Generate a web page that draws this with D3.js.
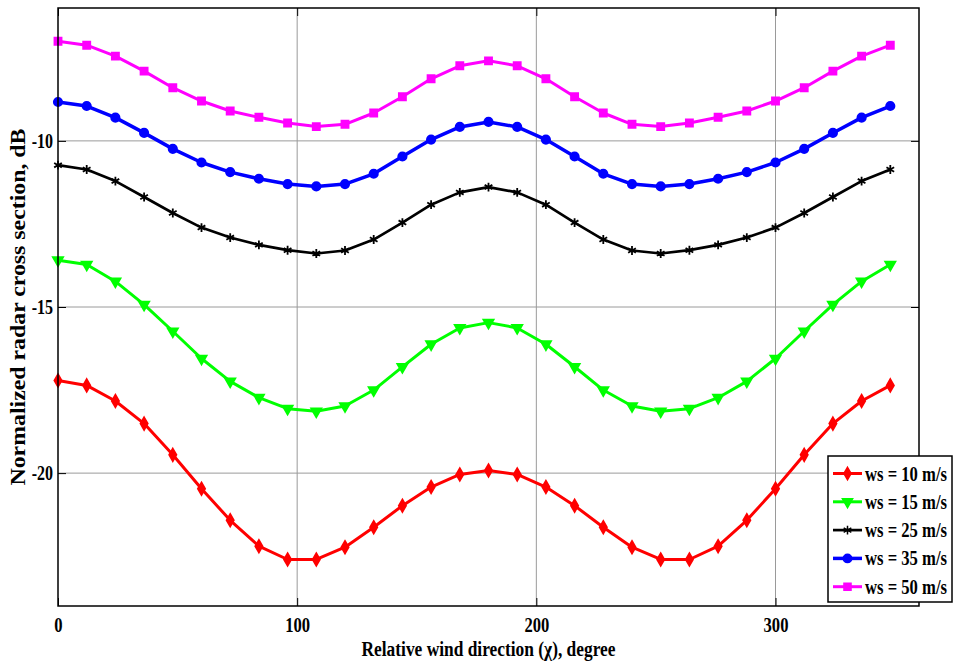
<!DOCTYPE html>
<html>
<head>
  <meta charset="utf-8">
  <script src="https://d3js.org/d3.v7.min.js"></script>
  <title>Normalized radar cross section vs wind direction</title>
  <style>
    body { margin: 0; background: #fff; }
    text { font-family: "Liberation Serif", "Times New Roman", serif; font-weight: bold; }
  </style>
</head>
<body>
<script>

  // relative wind direction, degree (one point every 12 degrees)
  var chi = [0, 12, 24, 36, 48, 60, 72, 84, 96, 108, 120, 132, 144, 156, 168,
             180, 192, 204, 216, 228, 240, 252, 264, 276, 288, 300, 312, 324, 336, 348];

  // NRCS in dB
  var ws10 = [-17.21, -17.36, -17.83, -18.51, -19.45, -20.47, -21.42, -22.20, -22.60, -22.60,
              -22.23, -21.63, -20.98, -20.42, -20.04, -19.92, -20.04, -20.42, -20.98, -21.63,
              -22.23, -22.60, -22.60, -22.20, -21.42, -20.47, -19.45, -18.51, -17.83, -17.36];
  var ws15 = [-13.59, -13.72, -14.23, -14.93, -15.73, -16.55, -17.24, -17.73, -18.06, -18.14,
              -17.98, -17.50, -16.80, -16.12, -15.63, -15.47, -15.63, -16.12, -16.80, -17.50,
              -17.98, -18.14, -18.06, -17.73, -17.24, -16.55, -15.73, -14.93, -14.23, -13.72];
  var ws25 = [-10.73, -10.86, -11.21, -11.69, -12.17, -12.61, -12.91, -13.13, -13.29, -13.39,
              -13.30, -12.97, -12.46, -11.92, -11.55, -11.39, -11.55, -11.92, -12.46, -12.97,
              -13.30, -13.39, -13.29, -13.13, -12.91, -12.61, -12.17, -11.69, -11.21, -10.86];
  var ws35 = [-8.83, -8.95, -9.30, -9.76, -10.24, -10.65, -10.94, -11.14, -11.30, -11.37,
              -11.30, -10.99, -10.47, -9.96, -9.58, -9.43, -9.58, -9.96, -10.47, -10.99,
              -11.30, -11.37, -11.30, -11.14, -10.94, -10.65, -10.24, -9.76, -9.30, -8.95];
  var ws50 = [-7.00, -7.12, -7.45, -7.90, -8.40, -8.80, -9.10, -9.29, -9.46, -9.57,
              -9.50, -9.16, -8.67, -8.13, -7.74, -7.59, -7.74, -8.13, -8.67, -9.16,
              -9.50, -9.57, -9.46, -9.29, -9.10, -8.80, -8.40, -7.90, -7.45, -7.12];

  var seriesNames = ["ws = 10 m/s", "ws = 15 m/s", "ws = 25 m/s", "ws = 35 m/s", "ws = 50 m/s"];
  var xTicks = [0, 100, 200, 300];
  var yTicks = [-20, -15, -10];

  var width = 954, height = 665;
  var margin = {left: 58, top: 8, right: 35, bottom: 59};
  var w = width - margin.left - margin.right,
      h = height - margin.top - margin.bottom;

  var series = [
    {name: seriesNames[0], values: ws10, color: "#ff0000", lw: 3,   symbol: d3.symbolDiamond,  size: 45, rot: 0},
    {name: seriesNames[1], values: ws15, color: "#00ff00", lw: 3,   symbol: d3.symbolTriangle, size: 45, rot: 180},
    {name: seriesNames[2], values: ws25, color: "#000000", lw: 2.7, symbol: d3.symbolAsterisk || d3.symbolCross, size: 55, rot: 0},
    {name: seriesNames[3], values: ws35, color: "#0000ff", lw: 3.5, symbol: d3.symbolCircle,   size: 55, rot: 0},
    {name: seriesNames[4], values: ws50, color: "#ff00ff", lw: 3,   symbol: d3.symbolSquare,   size: 50, rot: 0}
  ];

  var x = d3.scaleLinear().domain([0, 360]).range([0, w]);
  var y = d3.scaleLinear().domain([-24, -6]).range([h, 0]);

  var svg = d3.select("body").append("svg")
      .attr("width", width)
      .attr("height", height);

  var g = svg.append("g")
      .attr("transform", "translate(" + margin.left + "," + margin.top + ")");

  // squeeze text a bit, the original font is narrow
  function squeeze(sel, k) {
    sel.each(function() {
      var len = this.getComputedTextLength();
      d3.select(this).attr("textLength", len * k).attr("lengthAdjust", "spacingAndGlyphs");
    });
  }

  // grid
  g.append("g")
    .selectAll("line.vg")
    .data(xTicks.slice(1))
    .enter().append("line")
    .attr("x1", function(d) { return x(d); })
    .attr("x2", function(d) { return x(d); })
    .attr("y1", 0).attr("y2", h)
    .style("stroke", "#9a9a9a").style("stroke-width", 1);

  g.append("g")
    .selectAll("line.hg")
    .data(yTicks)
    .enter().append("line")
    .attr("x1", 0).attr("x2", w)
    .attr("y1", function(d) { return y(d); })
    .attr("y2", function(d) { return y(d); })
    .style("stroke", "#9a9a9a").style("stroke-width", 1);

  // lines + markers
  var line = d3.line()
      .x(function(d, i) { return x(chi[i]); })
      .y(function(d) { return y(d); });

  series.forEach(function(s) {
    g.append("path")
      .datum(s.values)
      .attr("d", line)
      .style("fill", "none")
      .style("stroke", s.color)
      .style("stroke-width", s.lw)
      .style("stroke-linejoin", "round");

    g.selectAll(null)
      .data(s.values)
      .enter().append("path")
      .attr("d", d3.symbol().type(s.symbol).size(s.size))
      .attr("transform", function(d, i) {
        return "translate(" + x(chi[i]) + "," + y(d) + ") rotate(" + s.rot + ")";
      })
      .style("fill", s.color)
      .style("stroke", s.color)
      .style("stroke-width", 1.8);
  });

  // axes, ticks inside like matlab
  var xAxis = g.append("g")
      .attr("transform", "translate(0," + h + ")")
      .call(d3.axisBottom(x).tickValues(xTicks).tickSize(-8).tickPadding(12).tickFormat(d3.format("d")));
  g.append("g")
      .call(d3.axisTop(x).tickValues(xTicks).tickSize(-8).tickFormat(""));
  var yAxis = g.append("g")
      .call(d3.axisLeft(y).tickValues(yTicks).tickSize(-8).tickPadding(5).tickFormat(function(d) { return "-" + Math.abs(d); }));
  g.append("g")
      .attr("transform", "translate(" + w + ",0)")
      .call(d3.axisRight(y).tickValues(yTicks).tickSize(-8).tickFormat(""));

  g.selectAll(".domain").remove();
  g.selectAll(".tick line").style("stroke", "#000").style("stroke-width", 1);

  xAxis.selectAll("text").style("font-size", "20px").style("fill", "#000");
  yAxis.selectAll("text").style("font-size", "20px").style("fill", "#000");
  squeeze(xAxis.selectAll("text"), 0.83);
  squeeze(yAxis.selectAll("text"), 0.8);

  g.append("rect")
    .attr("width", w).attr("height", h)
    .style("fill", "none")
    .style("stroke", "#000")
    .style("stroke-width", 1.5);

  // axis titles
  g.append("text")
    .attr("x", w / 2)
    .attr("y", h + 50)
    .attr("text-anchor", "middle")
    .attr("textLength", 254)
    .attr("lengthAdjust", "spacingAndGlyphs")
    .style("font-size", "20px")
    .text("Relative wind direction (\u03c7), degree");

  svg.append("text")
    .attr("transform", "translate(25," + (margin.top + h / 2) + ") rotate(-90)")
    .attr("text-anchor", "middle")
    .attr("textLength", 357)
    .attr("lengthAdjust", "spacingAndGlyphs")
    .style("font-size", "20px")
    .text("Normalized radar cross section, dB");

  // legend
  var legend = svg.append("g").attr("transform", "translate(828,456)");
  legend.append("rect")
    .attr("width", 124).attr("height", 146)
    .style("fill", "#fff")
    .style("stroke", "#000")
    .style("stroke-width", 1.5);

  var items = legend.selectAll("g.item")
    .data(series)
    .enter().append("g")
    .attr("transform", function(d, i) { return "translate(0," + (17.5 + i * 28.3) + ")"; });

  items.append("line")
    .attr("x1", 5).attr("x2", 34)
    .style("stroke", function(d) { return d.color; })
    .style("stroke-width", function(d) { return d.lw; });

  items.append("path")
    .attr("d", function(d) { return d3.symbol().type(d.symbol).size(d.size)(); })
    .attr("transform", function(d) { return "translate(19.5,0) rotate(" + d.rot + ")"; })
    .style("fill", function(d) { return d.color; })
    .style("stroke", function(d) { return d.color; })
    .style("stroke-width", 1.5);

  items.append("text")
    .attr("x", 37)
    .attr("y", 7)
    .attr("textLength", 82)
    .attr("lengthAdjust", "spacingAndGlyphs")
    .style("font-size", "20px")
    .text(function(d) { return d.name; });

</script>
</body>
</html>
